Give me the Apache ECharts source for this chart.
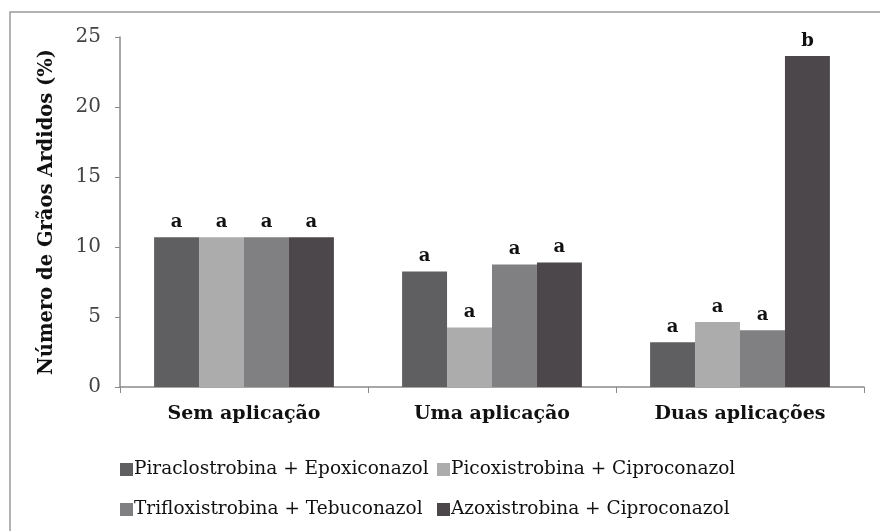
<!DOCTYPE html>
<html>
<head>
<meta charset="utf-8">
<script src="https://cdn.jsdelivr.net/npm/echarts@6/dist/echarts.min.js"></script>
<style>
  html, body { margin: 0; padding: 0; background: #fff; }
  #chart { width: 880px; height: 531px; }
</style>
</head>
<body>
<div id="chart"></div>
<script>
// categories and tick labels
var categories = ['Sem aplicação', 'Uma aplicação', 'Duas aplicações'];
var yTicks = [0, 5, 10, 15, 20, 25];

// series names
var seriesNames = [
  'Piraclostrobina + Epoxiconazol',
  'Picoxistrobina + Ciproconazol',
  'Trifloxistrobina + Tebuconazol',
  'Azoxistrobina + Ciproconazol'
];

// values per series (one per category)
var piraclostrobina = [10.7, 8.25, 3.2];
var picoxistrobina = [10.7, 4.25, 4.65];
var trifloxistrobina = [10.7, 8.75, 4.05];
var azoxistrobina = [10.7, 8.9, 23.65];

// significance letters
var lettersPira = ['a', 'a', 'a'];
var lettersPico = ['a', 'a', 'a'];
var lettersTrif = ['a', 'a', 'a'];
var lettersAzox = ['a', 'a', 'b'];

var values = [piraclostrobina, picoxistrobina, trifloxistrobina, azoxistrobina];
var letters = [lettersPira, lettersPico, lettersTrif, lettersAzox];
var colors = ['#5f5e60', '#adacad', '#807f81', '#4b474b'];
var serif = '"DejaVu Serif", "Liberation Serif", serif';

var chartDom = document.getElementById('chart');
var myChart = echarts.init(chartDom);
var option;

var series = seriesNames.map(function (name, i) {
  return {
    name: name,
    type: 'bar',
    data: values[i],
    barGap: '0%',
    barCategoryGap: '27.5%',
    itemStyle: { color: colors[i] },
    label: {
      show: true,
      position: 'top',
      distance: 6,
      fontFamily: serif,
      fontWeight: 'bold',
      fontSize: 18,
      color: '#111',
      formatter: function (p) { return letters[i][p.dataIndex]; }
    }
  };
});

function legendAt(name, left, top) {
  return {
    data: [name],
    left: left,
    top: top,
    itemWidth: 13,
    itemHeight: 13,
    itemGap: 2,
    icon: 'rect',
    textStyle: { fontFamily: serif, fontSize: 18.5, color: '#111', padding: [0, 0, 0, -4] }
  };
}

option = {
  animation: false,
  backgroundColor: '#fff',
  graphic: [{
    type: 'rect',
    shape: { x: 10, y: 12, width: 900, height: 600 },
    style: { fill: 'none', stroke: '#9a9a9a', lineWidth: 1.5 },
    silent: true
  }],
  legend: [
    legendAt(seriesNames[0], 115, 455),
    legendAt(seriesNames[1], 432, 455),
    legendAt(seriesNames[2], 115, 495),
    legendAt(seriesNames[3], 432, 495)
  ],
  grid: { left: 120, right: 16, top: 37, bottom: 144 },
  xAxis: {
    type: 'category',
    data: categories,
    axisLine: { lineStyle: { color: '#8a8a8a', width: 1.5 } },
    axisTick: { show: true, length: 6, lineStyle: { color: '#8a8a8a' } },
    axisLabel: {
      margin: 18,
      fontFamily: serif,
      fontWeight: 'bold',
      fontSize: 19,
      color: '#111'
    }
  },
  yAxis: {
    type: 'value',
    min: yTicks[0],
    max: yTicks[yTicks.length - 1],
    interval: yTicks[1] - yTicks[0],
    name: 'Número de Grãos Ardidos (%)',
    nameLocation: 'middle',
    nameGap: 63,
    nameTextStyle: { fontFamily: serif, fontWeight: 'bold', fontSize: 19.5, color: '#111' },
    axisLine: { show: true, lineStyle: { color: '#8a8a8a', width: 1.5 } },
    axisTick: { show: true, length: 5, lineStyle: { color: '#8a8a8a' } },
    splitLine: { show: false },
    axisLabel: {
      margin: 19,
      fontFamily: serif,
      fontSize: 20,
      color: '#444'
    }
  },
  series: series
};

option && myChart.setOption(option);
</script>
</body>
</html>
